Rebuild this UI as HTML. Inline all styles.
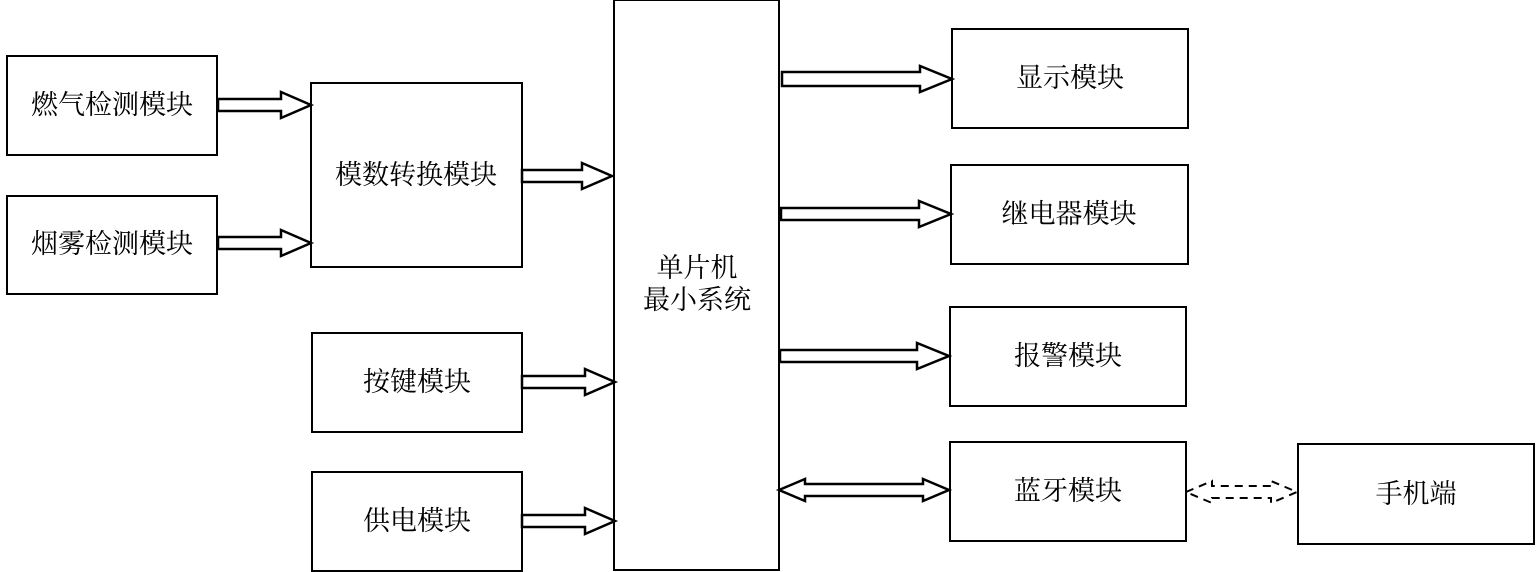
<!DOCTYPE html>
<html><head><meta charset="utf-8"><style>
html,body{margin:0;padding:0;background:#fff;}
svg{display:block}
text{font-family:"Liberation Serif","Noto Serif CJK SC",serif;font-size:27px;fill:#000;text-anchor:middle;dominant-baseline:central}
</style></head><body>
<svg width="1537" height="572" viewBox="0 0 1537 572">
<g fill="#fff" stroke="#000" stroke-width="2">
<rect x="7" y="56" width="210" height="99"/>
<rect x="7" y="196" width="210" height="98"/>
<rect x="311" y="83" width="211" height="184"/>
<rect x="312" y="333" width="210" height="99"/>
<rect x="312" y="472" width="210" height="99"/>
<rect x="614" y="0" width="165" height="570"/>
<rect x="952" y="29" width="236" height="99"/>
<rect x="951" y="165" width="237" height="99"/>
<rect x="950" y="307" width="236" height="99"/>
<rect x="950" y="442" width="236" height="99"/>
<rect x="1298" y="444" width="236" height="100"/>
</g>
<g fill="#fff" stroke="#000" stroke-width="2.5" stroke-linejoin="miter">
<polygon points="218,99 281,99 281,92 311,105 281,118 281,111 218,111"/>
<polygon points="218,237 281,237 281,230 311,243 281,256 281,249 218,249"/>
<polygon points="522,170 582,170 582,163 612,176 582,189 582,182 522,182"/>
<polygon points="522,376 585,376 585,369 615,382 585,395 585,388 522,388"/>
<polygon points="522,515 585,515 585,508 615,521 585,534 585,527 522,527"/>
<polygon points="782,72 920,72 920,66 952,79 920,92 920,86 782,86"/>
<polygon points="781,208 919,208 919,201 951,214 919,227 919,220 781,220"/>
<polygon points="780,350 917,350 917,343 949,356 917,369 917,362 780,362"/>
<polygon points="779,490 805,479 805,484 923,484 923,479 949,490 923,501 923,496 805,496 805,501"/>
<polygon stroke-dasharray="8,6" stroke-width="2" points="1186,492 1212,481 1212,486 1271,486 1271,481 1297,492 1271,503 1271,498 1212,498 1212,503"/>
</g>
<text x="112" y="105">燃气检测模块</text>
<text x="112" y="244">烟雾检测模块</text>
<text x="416" y="175">模数转换模块</text>
<text x="417" y="382">按键模块</text>
<text x="417" y="521">供电模块</text>
<text x="697" y="268">单片机</text>
<text x="697" y="300">最小系统</text>
<text x="1070" y="78">显示模块</text>
<text x="1069" y="214">继电器模块</text>
<text x="1068" y="356">报警模块</text>
<text x="1068" y="491">蓝牙模块</text>
<text x="1416" y="494">手机端</text>
</svg>
</body></html>
